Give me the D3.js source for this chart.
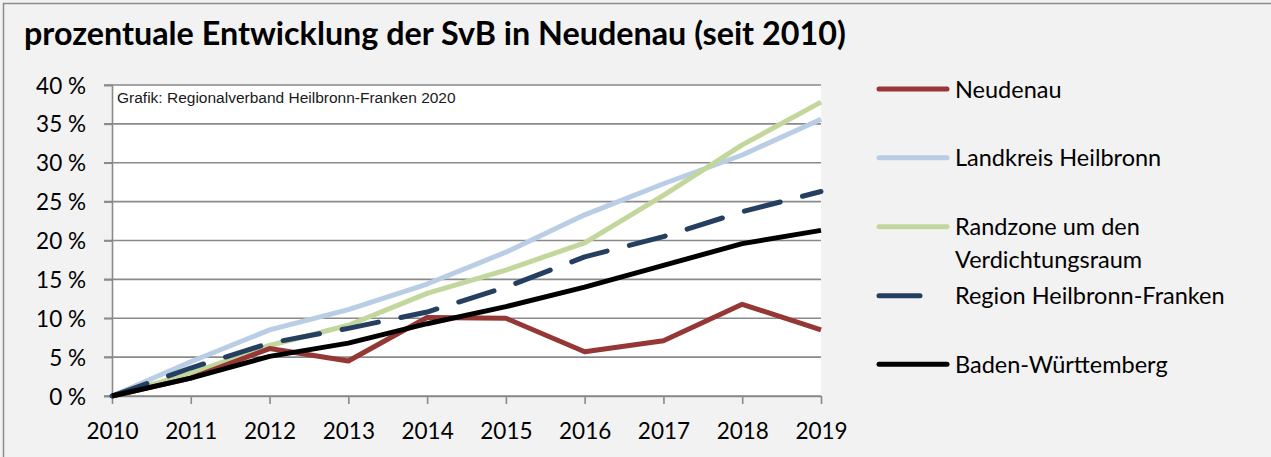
<!DOCTYPE html>
<html><head><meta charset="utf-8">
<script src="https://cdn.jsdelivr.net/npm/d3@7"></script>
<style>html,body{margin:0;padding:0;background:#f2f2f2;overflow:hidden}</style>
</head><body>
<svg id="c" width="1271" height="457"></svg>
<script>
const years = [2010,2011,2012,2013,2014,2015,2016,2017,2018,2019];
const yTicks = [0,5,10,15,20,25,30,35,40];
const neudenau  = [0,2.3,6.1,4.5,10.1,10.0,5.7,7.1,11.8,8.5];
const landkreis = [0,4.4,8.5,11.1,14.4,18.5,23.3,27.3,31.0,35.6];
const randzone  = [0,2.9,6.5,9.1,13.2,16.2,19.7,25.8,32.3,37.8];
const region    = [0,3.6,6.8,8.7,10.8,14.0,17.9,20.5,23.7,26.3];
const bawue     = [0,2.3,5.1,6.8,9.3,11.5,14.0,16.8,19.6,21.3];
const seriesNames = ["Neudenau","Landkreis Heilbronn","Randzone um den|Verdichtungsraum","Region Heilbronn-Franken","Baden-Württemberg"];
const titleText = "prozentuale Entwicklung der SvB in Neudenau (seit 2010)";
const sourceText = "Grafik: Regionalverband Heilbronn-Franken 2020";

const series = [
  {name:seriesNames[0], values:neudenau,  color:"#953735", dash:null},
  {name:seriesNames[1], values:landkreis, color:"#b9cde5", dash:null},
  {name:seriesNames[2], values:randzone,  color:"#c3d69b", dash:null},
  {name:seriesNames[3], values:region,    color:"#243f60", dash:"37,23"},
  {name:seriesNames[4], values:bawue,     color:"#000000", dash:null}
];
const drawOrder = [1,2,0,3,4];

const svg = d3.select("#c");
const font = "Lato, 'Open Sans', sans-serif";

svg.append("rect").attr("x",0).attr("y",0).attr("width",1271).attr("height",457).attr("fill","#f2f2f2");
svg.append("rect").attr("x",3.5).attr("y",3.5).attr("width",1300).attr("height",500)
  .attr("fill","none").attr("stroke","#8c8c8c").attr("stroke-width",1.5);

const x = d3.scalePoint().domain(years).range([112,821]);
const y = d3.scaleLinear().domain([0,40]).range([396,85]);

svg.append("rect").attr("x",112).attr("y",85).attr("width",709).attr("height",311).attr("fill","#ffffff");

svg.append("g").selectAll("line").data(yTicks).join("line")
  .attr("x1",104).attr("x2",821).attr("y1",d=>y(d)).attr("y2",d=>y(d))
  .attr("stroke","#8a8a8a").attr("stroke-width",1.6);

const yAxis = svg.append("g").attr("transform","translate(112,0)")
  .call(d3.axisLeft(y).tickValues(yTicks).tickSize(8).tickFormat(d=>d+" %"));
yAxis.select(".domain").attr("stroke","#8a8a8a").attr("stroke-width",1.6);
yAxis.selectAll(".tick line").attr("stroke","#8a8a8a").attr("stroke-width",1.6);
yAxis.selectAll(".tick text").attr("x",-26).attr("dy","0.36em")
  .attr("font-family",font).attr("font-size",22.5).attr("fill","#000");

const xAxis = svg.append("g").attr("transform","translate(0,396)")
  .call(d3.axisBottom(x).tickSize(8).tickSizeOuter(0));
xAxis.select(".domain").attr("stroke","#8a8a8a").attr("stroke-width",1.6);
xAxis.selectAll(".tick line").attr("stroke","#8a8a8a").attr("stroke-width",1.6);
xAxis.selectAll(".tick text").attr("y",43).attr("dy",0)
  .attr("font-family",font).attr("font-size",22.5).attr("fill","#000");

svg.append("text").attr("x",117).attr("y",103).text(sourceText)
  .attr("font-family","'Liberation Sans', Arial, sans-serif").attr("font-size",15.5).attr("fill","#1a1a1a");

const line = d3.line().x((d,i)=>x(years[i])).y(d=>y(d));
drawOrder.forEach(k=>{
  const s = series[k];
  svg.append("path").datum(s.values).attr("d",line)
    .attr("fill","none").attr("stroke",s.color).attr("stroke-width",5)
    .attr("stroke-linejoin","round").attr("stroke-linecap", s.dash?"round":"butt")
    .attr("stroke-dasharray", s.dash);
});

const title = svg.append("text").attr("x",24).attr("y",45).text(titleText)
  .attr("font-family",font).attr("font-weight","bold").attr("font-size",26).attr("fill","#000");
{
  const w = title.node().getComputedTextLength();
  title.attr("font-size", 26*822/w);
}

const legY = [89,157.7,226.7,295.7,364.3];
const leg = svg.append("g");
series.forEach((s,i)=>{
  leg.append("line").attr("x1",879).attr("x2",s.dash?945:947).attr("y1",legY[i]).attr("y2",legY[i])
    .attr("stroke",s.color).attr("stroke-width",5).attr("stroke-linecap","round")
    .attr("stroke-dasharray", s.dash? "41,25":null);
  const parts = s.name.split("|");
  parts.forEach((p,j)=>{
    leg.append("text").attr("x",955).attr("y",legY[i]+8.5+j*32.6).text(p)
      .attr("font-family",font).attr("font-size",23.5).attr("fill","#000");
  });
});
</script>
</body></html>
